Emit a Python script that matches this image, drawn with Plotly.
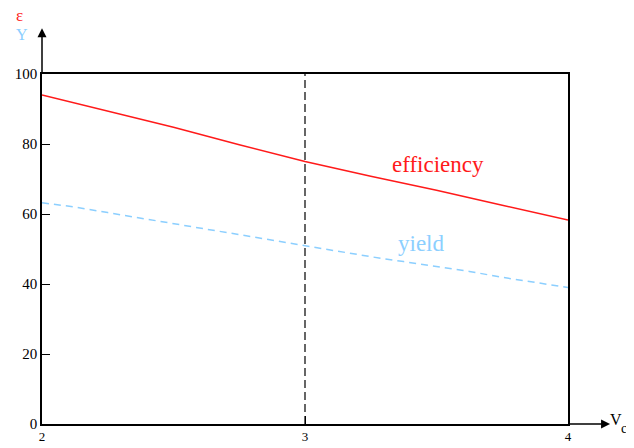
import plotly.graph_objects as go

# ---- data ----
eff_x = [2.0, 2.25, 2.5, 2.75, 3.0, 3.25, 3.5, 3.75, 4.0]
eff_y = [94.0, 89.3, 84.8, 79.8, 75.0, 70.8, 66.8, 62.5, 58.3]

yield_x = [2.0, 2.125, 2.25, 2.375, 2.5, 2.625, 2.75, 2.875, 3.0,
           3.125, 3.25, 3.375, 3.5, 3.625, 3.75, 3.875, 4.0]
yield_y = [63.2, 62.0, 60.4, 58.8, 57.3, 55.6, 54.2, 52.6, 51.0,
           49.3, 47.8, 46.4, 45.1, 43.6, 41.9, 40.5, 39.0]

x_ticks = [2, 3, 4]
x_tick_labels = ["2", "3", "4"]
y_ticks = [0, 20, 40, 60, 80, 100]
y_tick_labels = ["0", "20", "40", "60", "80", "100"]

marker_x = 3.0          # vertical dashed reference line
x_range = [2, 4]
y_range = [0, 100]

RED = "#ff1a1a"
BLUE = "#8ccfff"
SERIF = "Liberation Serif, Times New Roman, serif"

fig = go.Figure()

fig.add_trace(go.Scatter(x=eff_x, y=eff_y, mode="lines",
                         line=dict(color=RED, width=1.5),
                         showlegend=False, hoverinfo="skip"))
fig.add_trace(go.Scatter(x=yield_x, y=yield_y, mode="lines",
                         line=dict(color=BLUE, width=1.5, dash="7px,5px"),
                         showlegend=False, hoverinfo="skip"))
# vertical dashed line at x = 3
fig.add_trace(go.Scatter(x=[marker_x, marker_x], y=y_range, mode="lines",
                         line=dict(color="black", width=1.2, dash="8px,4px"),
                         showlegend=False, hoverinfo="skip"))

# axis extensions with arrows
fig.add_annotation(xref="paper", yref="paper", x=0, y=1.131, text="",
                   showarrow=True, axref="pixel", ayref="pixel", ax=0, ay=46,
                   arrowhead=2, arrowsize=1.2, arrowwidth=1.5, arrowcolor="black")
fig.add_annotation(xref="paper", yref="paper", x=1.08, y=0, text="",
                   showarrow=True, axref="pixel", ayref="pixel", ax=-42, ay=0,
                   arrowhead=2, arrowsize=1.2, arrowwidth=1.5, arrowcolor="black")

# axis titles (explicit centre anchoring)
ann = dict(xref="paper", yref="paper", showarrow=False,
           xanchor="center", yanchor="middle", borderpad=0)
fig.add_annotation(x=-0.042, y=1.168, text="ε",
                   font=dict(family=SERIF, size=17, color=RED), **ann)
fig.add_annotation(x=-0.038, y=1.112, text="Y",
                   font=dict(family=SERIF, size=16, color=BLUE), **ann)
fig.add_annotation(x=1.092, y=0.013, text="V",
                   font=dict(family=SERIF, size=16, color="black"), **ann)
fig.add_annotation(x=1.107, y=-0.012, text="c",
                   font=dict(family=SERIF, size=14, color="black"), **ann)

# series labels
fig.add_annotation(x=3.505, y=74.2, text="efficiency", showarrow=False,
                   font=dict(family=SERIF, size=23, color=RED))
fig.add_annotation(x=3.44, y=51.5, text="yield", showarrow=False,
                   font=dict(family=SERIF, size=23, color=BLUE))

fig.update_xaxes(range=x_range, tickvals=x_ticks, ticktext=x_tick_labels,
                 showgrid=False, zeroline=False, showline=True, mirror=True,
                 linecolor="black", linewidth=1.5, ticks="inside", ticklen=8,
                 tickcolor="black", tickwidth=1.2, automargin=False,
                 tickfont=dict(family=SERIF, size=13, color="black"))
fig.update_yaxes(range=y_range, tickvals=y_ticks, ticktext=y_tick_labels,
                 showgrid=False, zeroline=False, showline=True, mirror=True,
                 linecolor="black", linewidth=1.5, ticks="inside", ticklen=8,
                 tickcolor="black", tickwidth=1.2, automargin=False,
                 tickfont=dict(family=SERIF, size=15, color="black"))

# page body has an 8px default margin; size the figure so the plot area
# lands at the same page pixels as the reference
fig.update_layout(width=626, height=440,
                  margin=dict(l=34, r=66, t=66, b=24, pad=0),
                  paper_bgcolor="white", plot_bgcolor="white")

fig.write_html("out.html")
